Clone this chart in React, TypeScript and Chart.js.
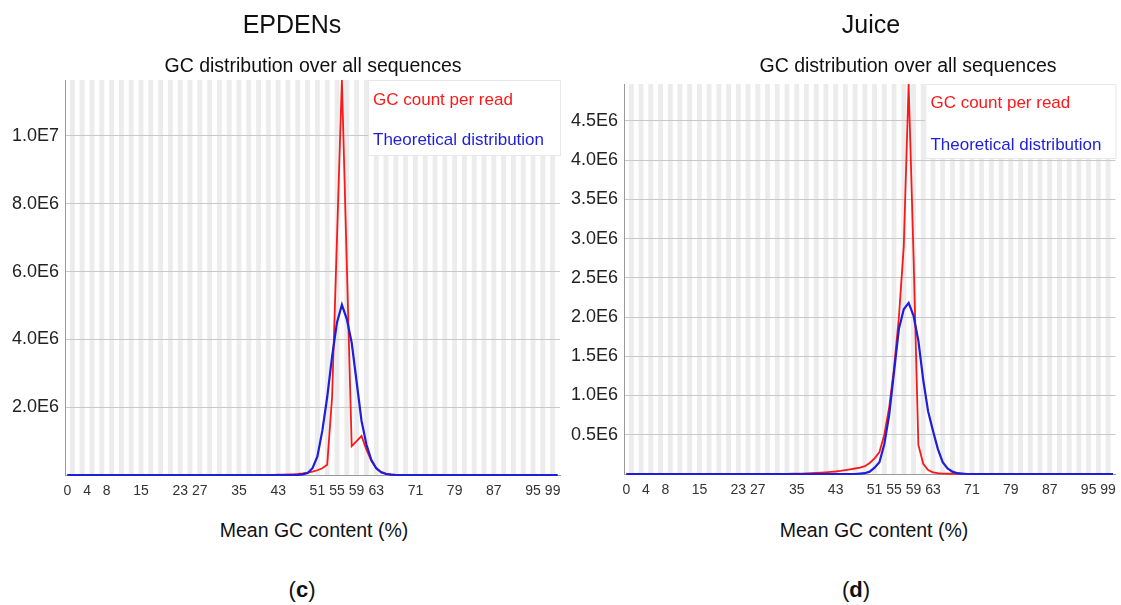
import React, { useEffect, useRef } from 'react';
import { Chart, registerables } from 'chart.js';

Chart.register(...registerables);

const FONT = '"Liberation Sans", Arial, Helvetica, sans-serif';
const RED = 'rgb(250,25,25)';
const BLUE = 'rgb(30,30,220)';

// categories: mean GC content 0..100 %
const gcPercent: string[] = Array.from({ length: 101 }, (_, i) => String(i));
const shownTicks = ['0', '4', '8', '15', '23', '27', '35', '43', '51', '55', '59', '63', '71', '79', '87', '95', '99'];

// values in millions of reads
const epdensRead = [
  0, 0, 0, 0, 0, 0, 0, 0, 0, 0,
  0, 0, 0, 0, 0, 0, 0, 0, 0, 0,
  0, 0, 0, 0, 0, 0, 0, 0, 0, 0,
  0, 0, 0, 0, 0, 0, 0, 0, 0.002, 0.003,
  0.004, 0.005, 0.006, 0.008, 0.01, 0.015, 0.02, 0.03, 0.045, 0.07,
  0.1, 0.14, 0.2, 0.3, 2.3, 7.0, 11.65, 6.2, 0.85, 1.0,
  1.15, 0.75, 0.42, 0.2, 0.09, 0.04, 0.015, 0.006, 0.003, 0.001,
  0, 0, 0, 0, 0, 0, 0, 0, 0, 0,
  0, 0, 0, 0, 0, 0, 0, 0, 0, 0,
  0, 0, 0, 0, 0, 0, 0, 0, 0, 0,
  0,
];
const epdensTheory = [
  0, 0, 0, 0, 0, 0, 0, 0, 0, 0,
  0, 0, 0, 0, 0, 0, 0, 0, 0, 0,
  0, 0, 0, 0, 0, 0, 0, 0, 0, 0,
  0, 0, 0, 0, 0, 0, 0, 0, 0, 0,
  0, 0, 0, 0, 0, 0, 0, 0.005, 0.02, 0.06,
  0.2, 0.55, 1.3, 2.3, 3.5, 4.5, 5.02, 4.6, 3.9, 2.75,
  1.6, 0.9, 0.45, 0.2, 0.08, 0.03, 0.01, 0, 0, 0,
  0, 0, 0, 0, 0, 0, 0, 0, 0, 0,
  0, 0, 0, 0, 0, 0, 0, 0, 0, 0,
  0, 0, 0, 0, 0, 0, 0, 0, 0, 0,
  0,
];
const juiceRead = [
  0, 0, 0, 0, 0, 0, 0, 0, 0, 0,
  0, 0, 0, 0, 0, 0, 0, 0, 0, 0,
  0, 0, 0, 0, 0, 0, 0, 0, 0, 0,
  0.001, 0.001, 0.002, 0.002, 0.003, 0.004, 0.005, 0.007, 0.01, 0.013,
  0.017, 0.021, 0.026, 0.032, 0.04, 0.05, 0.06, 0.07, 0.08, 0.1,
  0.14, 0.2, 0.28, 0.5, 0.85, 1.35, 2.0, 2.9, 4.97, 2.8,
  0.37, 0.13, 0.05, 0.02, 0.01, 0.006, 0.004, 0.003, 0.002, 0.001,
  0, 0, 0, 0, 0, 0, 0, 0, 0, 0,
  0, 0, 0, 0, 0, 0, 0, 0, 0, 0,
  0, 0, 0, 0, 0, 0, 0, 0, 0, 0,
  0,
];
const juiceTheory = [
  0, 0, 0, 0, 0, 0, 0, 0, 0, 0,
  0, 0, 0, 0, 0, 0, 0, 0, 0, 0,
  0, 0, 0, 0, 0, 0, 0, 0, 0, 0,
  0, 0, 0, 0, 0, 0, 0, 0, 0, 0,
  0, 0, 0, 0, 0, 0, 0, 0, 0.005, 0.01,
  0.03, 0.08, 0.15, 0.38, 0.75, 1.3, 1.85, 2.1, 2.18, 2.02,
  1.7, 1.2, 0.8, 0.55, 0.32, 0.15, 0.07, 0.03, 0.01, 0.005,
  0, 0, 0, 0, 0, 0, 0, 0, 0, 0,
  0, 0, 0, 0, 0, 0, 0, 0, 0, 0,
  0, 0, 0, 0, 0, 0, 0, 0, 0, 0,
  0,
];

function fmtE(v: number): string {
  if (Math.abs(v) < 1e-9) return '';
  if (v >= 10 - 1e-9) return (v / 10).toFixed(1) + 'E7';
  return v.toFixed(1) + 'E6';
}

const stripePlugin = {
  id: 'stripes',
  beforeDraw(chart: any) {
    const { ctx, chartArea, scales } = chart;
    const xs = scales.x;
    const n = chart.data.labels.length;
    const w = (chartArea.right - chartArea.left) / n;
    ctx.save();
    ctx.fillStyle = 'rgb(236,236,236)';
    for (let i = 1; i < n; i += 2) {
      const cx = xs.getPixelForValue(i);
      ctx.fillRect(cx - w / 2, chartArea.top, w, chartArea.bottom - chartArea.top);
    }
    ctx.restore();
  },
};

function legendPlugin(box: { w: number; h: number; ys: number[] }) {
  return {
    id: 'gcLegend',
    afterDatasetsDraw(chart: any) {
      const { ctx, chartArea } = chart;
      const x0 = chartArea.right - box.w;
      const y0 = chartArea.top;
      ctx.save();
      ctx.fillStyle = '#ffffff';
      ctx.fillRect(x0, y0, box.w, box.h);
      ctx.strokeStyle = '#e8e8e8';
      ctx.lineWidth = 1;
      ctx.strokeRect(x0 + 0.5, y0 + 0.5, box.w, box.h);
      ctx.font = `17px ${FONT}`;
      ctx.textBaseline = 'middle';
      ctx.textAlign = 'left';
      chart.data.datasets.forEach((ds: any, i: number) => {
        ctx.fillStyle = ds.borderColor;
        ctx.fillText(ds.label, x0 + 5, y0 + box.ys[i]);
      });
      ctx.restore();
    },
  };
}

type Cfg = {
  read: number[];
  theory: number[];
  yMax: number;
  yStep: number;
  padTop: number;
  padRight: number;
  yWidth: number;
  legend: { w: number; h: number; ys: number[] };
};

function buildChart(canvas: HTMLCanvasElement, cfg: Cfg) {
  return new Chart(canvas, {
    type: 'line',
    data: {
      labels: gcPercent,
      datasets: [
        {
          label: 'GC count per read',
          data: cfg.read,
          borderColor: RED,
          backgroundColor: RED,
          borderWidth: 1.8,
          pointRadius: 0,
          tension: 0,
          order: 2,
          clip: 4,
        },
        {
          label: 'Theoretical distribution',
          data: cfg.theory,
          borderColor: BLUE,
          backgroundColor: BLUE,
          borderWidth: 2.2,
          pointRadius: 0,
          tension: 0,
          order: 1,
          clip: 4,
        },
      ],
    },
    options: {
      responsive: false,
      animation: false,
      events: [],
      layout: { padding: { top: cfg.padTop, right: cfg.padRight, left: 0, bottom: 0 } },
      plugins: {
        legend: { display: false },
        tooltip: { enabled: false },
        title: { display: false },
      },
      scales: {
        x: {
          type: 'category',
          offset: true,
          grid: { display: false, drawTicks: false },
          border: { display: true, color: '#9a9a9a' },
          ticks: {
            autoSkip: false,
            maxRotation: 0,
            minRotation: 0,
            padding: 8,
            color: '#333',
            font: { size: 14, family: FONT },
            callback: (_v: any, i: number) => (shownTicks.includes(gcPercent[i]) ? gcPercent[i] : ''),
          },
          afterFit: (s: any) => {
            s.height = 30;
          },
        },
        y: {
          min: 0,
          max: cfg.yMax,
          grid: { color: '#c8c8c8', drawTicks: false, lineWidth: 1 },
          border: { display: true, color: '#9a9a9a' },
          ticks: {
            stepSize: cfg.yStep,
            includeBounds: false,
            padding: 6,
            color: '#222',
            font: { size: 18, family: FONT },
            callback: (v: any) => fmtE(Number(v)),
          },
          afterFit: (s: any) => {
            s.width = cfg.yWidth;
          },
        },
      },
    } as any,
    plugins: [stripePlugin, legendPlugin(cfg.legend)],
  });
}

function Txt(props: { x: number; y: number; size: number; children: React.ReactNode }) {
  return (
    <div
      style={{
        position: 'absolute',
        left: props.x,
        top: props.y,
        transform: 'translate(-50%, -50%)',
        fontSize: props.size,
        lineHeight: 1,
        whiteSpace: 'nowrap',
        color: '#111',
      }}
    >
      {props.children}
    </div>
  );
}

export default function App() {
  const leftRef = useRef<HTMLCanvasElement>(null);
  const rightRef = useRef<HTMLCanvasElement>(null);

  useEffect(() => {
    document.body.style.margin = '0';
    const c1 = buildChart(leftRef.current as HTMLCanvasElement, {
      read: epdensRead,
      theory: epdensTheory,
      yMax: 11.65,
      yStep: 2,
      padTop: 80,
      padRight: 10,
      yWidth: 65,
      legend: { w: 192, h: 75, ys: [20, 60] },
    });
    const c2 = buildChart(rightRef.current as HTMLCanvasElement, {
      read: juiceRead,
      theory: juiceTheory,
      yMax: 4.97,
      yStep: 0.5,
      padTop: 84,
      padRight: 3,
      yWidth: 64,
      legend: { w: 190, h: 74, ys: [19, 61] },
    });
    return () => {
      c1.destroy();
      c2.destroy();
    };
  }, []);

  return (
    <div
      style={{
        position: 'relative',
        width: 1121,
        height: 605,
        background: '#fff',
        fontFamily: FONT,
        overflow: 'hidden',
      }}
    >
      <canvas ref={leftRef} width={570} height={505} style={{ position: 'absolute', left: 0, top: 0 }} />
      <canvas ref={rightRef} width={561} height={504} style={{ position: 'absolute', left: 560, top: 0 }} />

      <Txt x={292} y={24} size={25}>EPDENs</Txt>
      <Txt x={313} y={66} size={19.5}>GC distribution over all sequences</Txt>
      <Txt x={314} y={531} size={19.5}>Mean GC content (%)</Txt>
      <Txt x={302} y={590} size={22}>
        (<b>c</b>)
      </Txt>

      <Txt x={871} y={24} size={25}>Juice</Txt>
      <Txt x={908} y={66} size={19.5}>GC distribution over all sequences</Txt>
      <Txt x={874} y={531} size={19.5}>Mean GC content (%)</Txt>
      <Txt x={856} y={590} size={22}>
        (<b>d</b>)
      </Txt>
    </div>
  );
}
